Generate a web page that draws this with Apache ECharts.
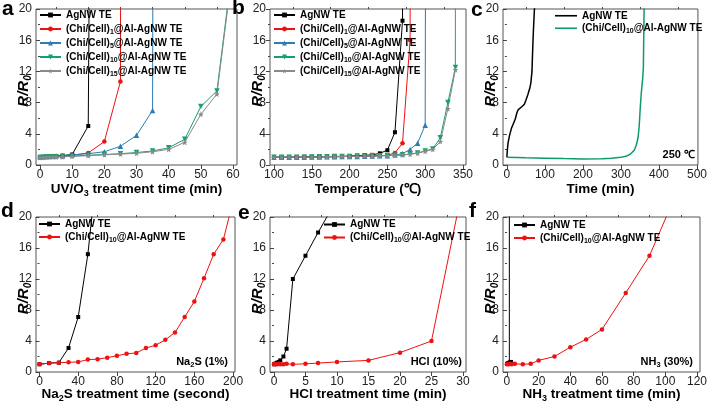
<!DOCTYPE html>
<html><head><meta charset="utf-8">
<script src="https://cdn.jsdelivr.net/npm/echarts@6/dist/echarts.min.js"></script>
<style>html,body{margin:0;padding:0;background:#fff}#c{width:710px;height:404px}</style>
</head><body><div id="c"></div>
<script>
// ---------- data ----------
// panel a: UV/O3 treatment time (min)
const aAgNW = [[0,1.0],[1,1.05],[2,1.07],[3,1.1],[4,1.12],[5,1.15],[7,1.2],[10,1.35],[15,5.0],[20,300]];
const aCC1  = [[0,1.0],[1,1.02],[2,1.05],[3,1.07],[4,1.1],[5,1.12],[7,1.15],[10,1.25],[15,1.55],[20,3.0],[25,10.7],[30,1000]];
const aCC5  = [[0,1.05],[1,1.07],[2,1.1],[3,1.12],[4,1.15],[5,1.17],[7,1.2],[10,1.3],[15,1.45],[20,1.7],[25,2.4],[30,3.8],[35,7.0],[40,1000]];
const aCC10 = [[0,0.95],[1,1.0],[2,1.0],[3,1.02],[4,1.05],[5,1.05],[7,1.08],[10,1.15],[15,1.25],[20,1.35],[25,1.45],[30,1.6],[35,1.8],[40,2.2],[45,3.3],[50,7.5],[55,9.5],[60,26]];
const aCC15 = [[0,0.95],[1,0.97],[2,1.0],[3,1.0],[4,1.02],[5,1.02],[7,1.05],[10,1.1],[15,1.2],[20,1.3],[25,1.4],[30,1.5],[35,1.7],[40,2.0],[45,2.9],[50,6.5],[55,9.1],[60,25.5]];
// panel b: Temperature
const bAgNW = [[100,1.0],[110,1.0],[120,1.0],[130,1.0],[140,1.05],[150,1.05],[160,1.05],[170,1.1],[180,1.1],[190,1.1],[200,1.15],[210,1.2],[220,1.25],[230,1.3],[240,1.5],[250,1.9],[260,4.2],[270,18.5],[280,300]];
const bCC1  = [[100,1.0],[110,1.0],[120,1.0],[130,1.0],[140,1.02],[150,1.03],[160,1.05],[170,1.05],[180,1.08],[190,1.08],[200,1.1],[210,1.1],[220,1.12],[230,1.15],[240,1.18],[250,1.25],[260,1.55],[270,2.8],[280,16.0],[290,400]];
const bCC5  = [[100,1.0],[110,1.0],[120,1.0],[130,1.0],[140,1.0],[150,1.02],[160,1.03],[170,1.05],[180,1.05],[190,1.08],[200,1.1],[210,1.1],[220,1.12],[230,1.15],[240,1.18],[250,1.2],[260,1.3],[270,1.45],[280,2.0],[290,2.8],[300,5.1],[310,500]];
const bCC10 = [[100,1.0],[110,1.0],[120,1.0],[130,1.0],[140,1.0],[150,1.02],[160,1.05],[170,1.05],[180,1.08],[190,1.1],[200,1.1],[210,1.12],[220,1.15],[230,1.18],[240,1.2],[250,1.22],[260,1.25],[270,1.3],[280,1.4],[290,1.55],[300,1.8],[310,2.05],[320,3.5],[330,8.0],[340,12.5],[350,2000]];
const bCC15 = [[100,1.0],[110,1.0],[120,1.0],[130,1.0],[140,1.0],[150,1.0],[160,1.02],[170,1.05],[180,1.05],[190,1.08],[200,1.1],[210,1.1],[220,1.12],[230,1.15],[240,1.18],[250,1.2],[260,1.22],[270,1.28],[280,1.38],[290,1.5],[300,1.75],[310,2.0],[320,3.0],[330,7.2],[340,12.2],[350,2000]];
// panel c: Time (min) at 250 C
const cAgNW = [[0,1.0],[1,1.8],[3,2.8],[7,3.8],[12,4.7],[17,5.3],[22,5.9],[27,6.8],[30,7.1],[35,7.3],[40,7.5],[46,7.8],[50,8.3],[55,9.0],[60,9.8],[63,10.5],[66,12.0],[68,15.0],[70,17.5],[73,20.5]];
const cCC10 = [[0,1.0],[25,0.97],[50,0.93],[100,0.88],[150,0.82],[200,0.78],[250,0.8],[275,0.85],[300,0.98],[315,1.15],[325,1.4],[335,1.9],[340,2.5],[345,3.5],[348,5.0],[351,7.5],[354,9.5],[357,11.0],[359,12.5],[361,20.5]];
// panel d: Na2S treatment time (second)
const dAgNW = [[0,1.0],[10,1.15],[20,1.2],[30,3.1],[40,7.1],[50,15.2],[60,27]];
const dCC10 = [[0,1.0],[10,1.15],[20,1.2],[30,1.25],[40,1.3],[50,1.6],[60,1.65],[70,1.85],[80,2.1],[90,2.35],[100,2.45],[110,3.1],[120,3.45],[130,4.15],[140,5.1],[150,7.1],[160,9.1],[170,12.1],[180,15.2],[190,17.1],[200,22]];
// panel e: HCl treatment time (min)
const eAgNW = [[0,1.0],[0.25,1.1],[0.5,1.2],[0.75,1.3],[1,1.5],[1.5,2.0],[2,3.0],[3,12.0],[5,15.0],[7,18.0],[10,22.3]];
const eCC10 = [[0,1.0],[0.25,1.0],[0.5,1.0],[0.75,1.05],[1,1.0],[1.5,1.0],[2,1.05],[3,1.0],[5,1.05],[7,1.15],[10,1.3],[15,1.5],[20,2.5],[25,4.0],[30,24]];
// panel f: NH3 treatment time (min)
const fAgNW = [[0,1.05],[0.5,1.1],[1,1.15],[1.5,1.2],[2,1.25],[2.5,1.3],[3,2000]];
const fCC10 = [[0,1.0],[1,1.0],[2,1.05],[3,1.0],[5,1.05],[10,1.0],[15,1.05],[20,1.5],[30,2.0],[40,3.2],[50,4.2],[60,5.5],[75,10.2],[90,15.0],[105,22.1]];

// tick labels
const ticksA = [0,10,20,30,40,50,60],       minorA = [5,15,25,35,45,55];
const ticksB = [100,150,200,250,300,350],   minorB = [125,175,225,275,325];
const ticksC = [0,100,200,300,400,500],     minorC = [50,150,250,350,450];
const ticksD = [0,40,80,120,160,200],       minorD = [20,60,100,140,180];
const ticksE = [0,5,10,15,20,25,30],        minorE = [2.5,7.5,12.5,17.5,22.5,27.5];
const ticksF = [0,20,40,60,80,100,120],     minorF = [10,30,50,70,90,110];

// texts
const panelLetters = ['a','b','c','d','e','f'];
const xNames = ['UV/O{s|3} treatment time (min)','Temperature (℃)','Time (min)',
  'Na{s|2}S treatment time (second)','HCl treatment time (min)','NH{s|3} treatment time (min)'];
const yName = 'R/R{s|0}{g|}';
const legendText = {
  AgNW: 'AgNW TE',
  CC1: '(Chi/Cell){s|1}@Al-AgNW TE',
  CC5: '(Chi/Cell){s|5}@Al-AgNW TE',
  CC10: '(Chi/Cell){s|10}@Al-AgNW TE',
  CC15: '(Chi/Cell){s|15}@Al-AgNW TE'
};
const notes = ['250 ℃', 'Na{s|2}S (1%)', 'HCl (10%)', 'NH{s|3} (30%)'];

// ---------- styling / layout ----------
const FONT = '"Liberation Sans", Arial, sans-serif';
const COL = {AgNW:'#000000', CC1:'#ee1111', CC5:'#2a7db5', CC10:'#17a06c', CC15:'#8a8a8a', cGreen:'#0f9a68'};
const STAR = 'path://M0,-10 L2.35,-3.24 9.51,-3.09 3.8,1.24 5.88,8.09 0,4 -5.88,8.09 -3.8,1.24 -9.51,-3.09 -2.35,-3.24 Z';
const DOWN = 'path://M0,0 L10,0 5,9 Z';
const LINEICON = 'path://M0,0 L22,0 L22,1.6 L0,1.6 Z';
const SYM = {
  AgNW:{symbol:'rect', size:4}, CC1:{symbol:'circle', size:4.5}, CC5:{symbol:'triangle', size:5.5},
  CC10:{symbol:DOWN, size:5.5}, CC15:{symbol:STAR, size:6}
};

const grids = [
  {left:36, top:9, width:201, height:156},
  {left:270, top:9, width:196, height:156},
  {left:503, top:9, width:201, height:156},
  {left:36, top:217, width:199, height:156},
  {left:270, top:217, width:196, height:156},
  {left:503, top:217, width:197, height:156}
].map(g => Object.assign(g, {show:true, borderColor:'#555', borderWidth:1, backgroundColor:'transparent'}));

const xRanges = [[-1.24,61.24],[94.7,354],[-10.2,502.5],[-3.6,202],[-0.63,30.48],[-2.5,121.9]];
const ticks = [ticksA,ticksB,ticksC,ticksD,ticksE,ticksF];
const minors = [minorA,minorB,minorC,minorD,minorE,minorF];

const xAxes = [];
for (let i = 0; i < 6; i++) {
  xAxes.push({
    gridIndex:i, type:'value', min:xRanges[i][0], max:xRanges[i][1],
    axisLine:{show:false},
    axisTick:{show:true, customValues:ticks[i], length:4, lineStyle:{color:'#444'}},
    axisLabel:{customValues:ticks[i], color:'#222', fontSize:12, fontFamily:FONT, margin:4},
    splitLine:{show:false},
    name:xNames[i], nameLocation:'middle', nameGap: i < 3 ? 15 : 13, nameMoveOverlap:false,
    nameTextStyle:{fontSize:13.5, fontWeight:'bold', color:'#000', fontFamily:FONT, lineHeight:18,
      rich:{s:{fontSize:9, fontWeight:'bold', fontFamily:FONT, lineHeight:10, verticalAlign:'bottom'}}}
  });
  xAxes.push({
    gridIndex:i, type:'value', min:xRanges[i][0], max:xRanges[i][1],
    axisLine:{show:false},
    axisTick:{show:true, customValues:minors[i], length:2, lineStyle:{color:'#444'}},
    axisLabel:{show:false}, splitLine:{show:false}
  });
}
const yAxes = [];
for (let i = 0; i < 6; i++) {
  yAxes.push({
    gridIndex:i, type:'value', min:0, max:20, interval:4,
    axisLine:{show:false},
    axisTick:{show:true, length:4, lineStyle:{color:'#444'}},
    minorTick:{show:true, splitNumber:2, length:2, lineStyle:{color:'#444'}},
    axisLabel:{color:'#222', fontSize:12, fontFamily:FONT, margin:4},
    splitLine:{show:false}, minorSplitLine:{show:false},
    name:yName, nameLocation:'middle', nameRotate:90, nameGap:3, nameMoveOverlap:false,
    nameTextStyle:{fontSize:15, fontWeight:'bold', fontStyle:'italic', color:'#000', fontFamily:FONT, lineHeight:18,
      rich:{s:{fontSize:10, fontWeight:'bold', fontStyle:'italic', fontFamily:FONT, lineHeight:10, verticalAlign:'bottom'},
            g:{width:8, lineHeight:10}}}
  });
}

const series = [];
function addSeries(panel, key, data, opts) {
  const s = SYM[key];
  series.push(Object.assign({
    name: panel + '-' + key, type:'line', data: data,
    xAxisIndex: 2*panelLetters.indexOf(panel), yAxisIndex: panelLetters.indexOf(panel),
    symbol: s.symbol, symbolSize: s.size, showSymbol:true,
    lineStyle:{width:1, color:COL[key]}, itemStyle:{color:COL[key]},
    clip:true, animation:false
  }, opts || {}));
}
addSeries('a','AgNW',aAgNW); addSeries('a','CC1',aCC1); addSeries('a','CC5',aCC5); addSeries('a','CC10',aCC10); addSeries('a','CC15',aCC15);
addSeries('b','AgNW',bAgNW); addSeries('b','CC1',bCC1); addSeries('b','CC5',bCC5); addSeries('b','CC10',bCC10); addSeries('b','CC15',bCC15);
addSeries('c','AgNW',cAgNW,{symbol:'none', showSymbol:false, lineStyle:{width:1.5, color:COL.AgNW}});
addSeries('c','CC10',cCC10,{symbol:'none', showSymbol:false, lineStyle:{width:1.5, color:COL.cGreen}, itemStyle:{color:COL.cGreen}});
addSeries('d','AgNW',dAgNW); addSeries('d','CC10',dCC10,{symbol:'circle', symbolSize:4.5, lineStyle:{width:1, color:COL.CC1}, itemStyle:{color:COL.CC1}});
addSeries('e','AgNW',eAgNW); addSeries('e','CC10',eCC10,{symbol:'circle', symbolSize:4.5, lineStyle:{width:1, color:COL.CC1}, itemStyle:{color:COL.CC1}});
addSeries('f','AgNW',fAgNW); addSeries('f','CC10',fCC10,{symbol:'circle', symbolSize:4.5, lineStyle:{width:1, color:COL.CC1}, itemStyle:{color:COL.CC1}});

function mkLegend(panel, keys, left, top, lh, iw, icon) {
  const l = {
    data: keys.map(k => panel + '-' + k), orient:'vertical', left:left, top:top, padding:0,
    itemGap:0, itemWidth:iw || 21, itemHeight:6, selectedMode:false,
    formatter: n => legendText[n.slice(2)],
    textStyle:{fontSize:10, fontWeight:'bold', color:'#000', fontFamily:FONT, lineHeight:lh,
      rich:{s:{fontSize:7, fontWeight:'bold', fontFamily:FONT, lineHeight:7, verticalAlign:'bottom'}}}
  };
  if (icon) { l.icon = icon; l.itemHeight = 1.6; }
  return l;
}
const legends = [
  mkLegend('a',['AgNW','CC1','CC5','CC10','CC15'],39,8,14),
  mkLegend('b',['AgNW','CC1','CC5','CC10','CC15'],273,8,14),
  mkLegend('c',['AgNW','CC10'],555,9.5,12.5,22,LINEICON),
  mkLegend('d',['AgNW','CC10'],38,217.5,13),
  mkLegend('e',['AgNW','CC10'],323,218,13),
  mkLegend('f',['AgNW','CC10'],513,218.5,13)
];

const letterPos = [[2,9],[232,8],[471,10],[1,211],[238,213],[469,211]];
const notePos = [[695,155],[228,362],[462,362],[693,362]];
const graphics = [];
letterPos.forEach((p, i) => graphics.push({type:'text', x:p[0], y:p[1], silent:true,
  style:{text:panelLetters[i], fontSize:21, fontWeight:'bold', fontFamily:FONT, fill:'#000', align:'left', verticalAlign:'middle'}}));
notePos.forEach((p, i) => graphics.push({type:'text', x:p[0], y:p[1], silent:true,
  style:{text:notes[i], fontSize:11, fontWeight:'bold', fontFamily:FONT, fill:'#000', align:'right', verticalAlign:'middle', lineHeight:14,
    rich:{s:{fontSize:7.5, fontWeight:'bold', fontFamily:FONT, lineHeight:7, verticalAlign:'bottom'}}}}));

const chart = echarts.init(document.getElementById('c'), null, {renderer:'canvas', width:710, height:404});
chart.setOption({
  animation:false, backgroundColor:'#ffffff',
  textStyle:{fontFamily:FONT},
  grid:grids, xAxis:xAxes, yAxis:yAxes, legend:legends, series:series, graphic:graphics
});
</script></body></html>
